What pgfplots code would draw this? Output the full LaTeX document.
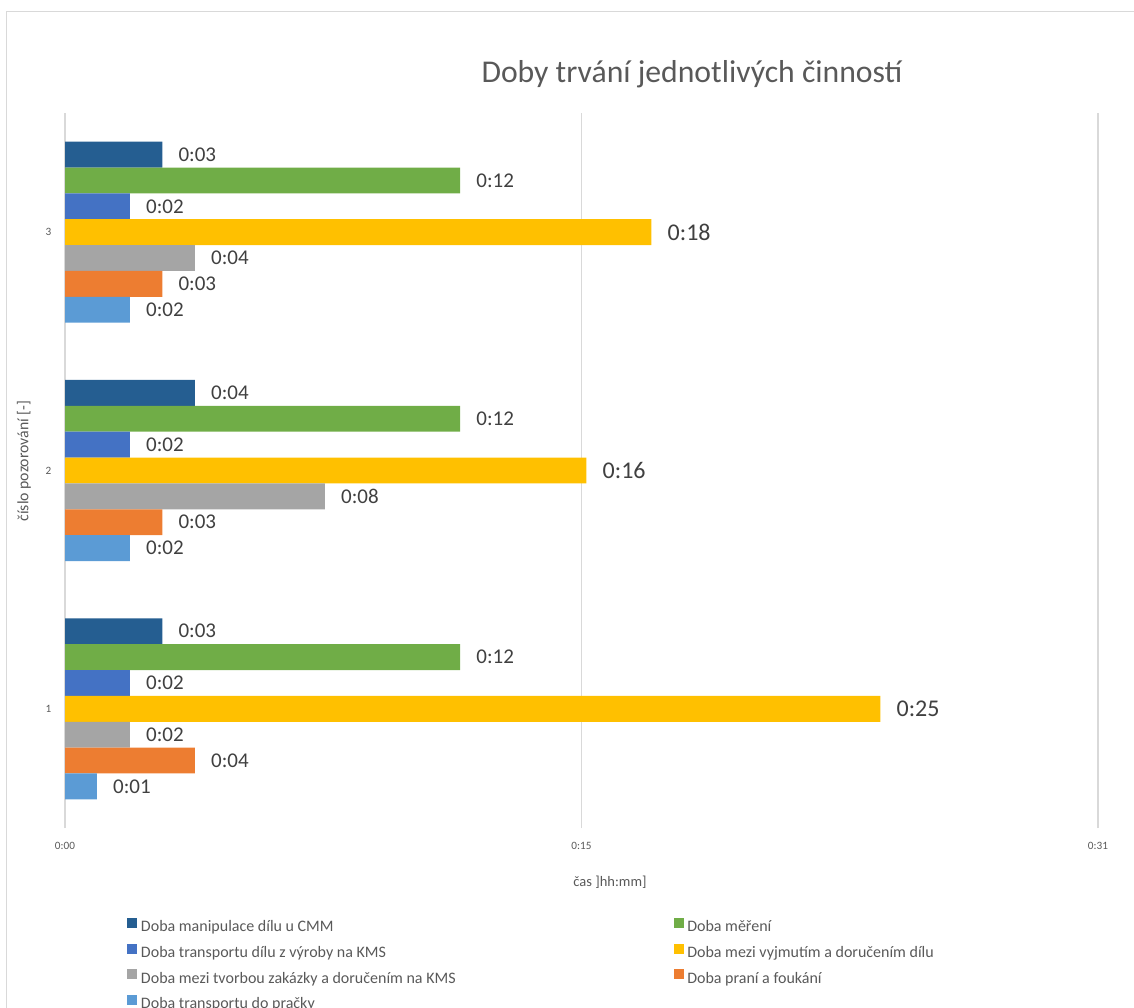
\documentclass[border=0pt]{standalone}
\usepackage{pgfplots}
\pgfplotsset{compat=1.18}
\usepackage{fontspec}
\setmainfont{Carlito}
\definecolor{c1}{HTML}{255E91}
\definecolor{c2}{HTML}{70AD47}
\definecolor{c3}{HTML}{4472C4}
\definecolor{c4}{HTML}{FFC000}
\definecolor{c5}{HTML}{A5A5A5}
\definecolor{c6}{HTML}{ED7D31}
\definecolor{c7}{HTML}{5B9BD5}
\definecolor{gridc}{HTML}{D9D9D9}
\definecolor{textc}{HTML}{595959}
\definecolor{labc}{HTML}{404040}
\begin{document}
\begin{tikzpicture}
\draw[gridc, line width=1.2pt] (-58.3pt,-300pt) -- (-58.3pt,816.3pt) -- (1200pt,816.3pt);
\begin{axis}[
  at={(0pt,0pt)}, anchor=south west, scale only axis,
  width=1033pt, height=715pt,
  xmin=0, xmax=31, ymin=0.5, ymax=3.5,
  xbar, bar width=0.1085,
  axis line style={draw=none},
  xtick={0,15.5,31}, xticklabels={0:00,0:15,0:31},
  ytick={1,2,3},
  major tick length=0pt, tick style={draw=none},
  xmajorgrids, major grid style={draw=gridc, line width=1.3pt},
  /pgf/number format/assume math mode=true,
  ticklabel style={font=\fontsize{11.2}{13}\selectfont, text=textc},
  xticklabel style={anchor=center, yshift=-18pt},
  yticklabel style={anchor=center, xshift=-16.5pt},
  nodes near coords, point meta=explicit symbolic,
  nodes near coords style={anchor=west, inner sep=0pt, xshift=16pt, font=\fontsize{21}{25}\selectfont, text=labc},
  clip=false,
  legend columns=2,
  legend cell align=left,
  legend image code/.code={\fill[#1,draw=none] (0pt,0pt) rectangle (10pt,10pt);},
  legend style={at={(0.0603,-0.1259)}, anchor=north west, draw=none, fill=none,
    inner sep=0pt, outer sep=0pt, column sep=3.7pt, row sep=8.4pt,
    font=\fontsize{16}{19}\selectfont, text=textc,
    nodes={inner sep=0pt, text height=11pt, text depth=3.5pt}},
]
\addplot[fill=c1, draw=none, bar shift=0.3255] coordinates {(2.92,1) [0:03] (3.90,2) [0:04] (2.92,3) [0:03]};
\addlegendentry{\makebox[528.9pt][l]{Doba manipulace dílu u CMM}}
\addplot[fill=c2, draw=none, bar shift=0.217] coordinates {(11.86,1) [0:12] (11.86,2) [0:12] (11.86,3) [0:12]};
\addlegendentry{Doba měření}
\addplot[fill=c3, draw=none, bar shift=0.1085] coordinates {(1.95,1) [0:02] (1.95,2) [0:02] (1.95,3) [0:02]};
\addlegendentry{\makebox[528.9pt][l]{Doba transportu dílu z výroby na KMS}}
\addplot[fill=c4, draw=none, bar shift=0, nodes near coords style={font=\fontsize{24}{28}\selectfont}] coordinates {(24.47,1) [0:25] (15.65,2) [0:16] (17.60,3) [0:18]};
\addlegendentry{Doba mezi vyjmutím a doručením dílu}
\addplot[fill=c5, draw=none, bar shift=-0.1085] coordinates {(1.95,1) [0:02] (7.80,2) [0:08] (3.90,3) [0:04]};
\addlegendentry{\makebox[528.9pt][l]{Doba mezi tvorbou zakázky a doručením na KMS}}
\addplot[fill=c6, draw=none, bar shift=-0.217] coordinates {(3.90,1) [0:04] (2.92,2) [0:03] (2.92,3) [0:03]};
\addlegendentry{Doba praní a foukání}
\addplot[fill=c7, draw=none, bar shift=-0.3255] coordinates {(0.96,1) [0:01] (1.95,2) [0:02] (1.95,3) [0:02]};
\addlegendentry{Doba transportu do pračky}
\end{axis}
\node[anchor=base, font=\fontsize{31.7}{36}\selectfont, text=textc] at (627pt,745pt) {Doby trvání jednotlivých činností};
\node[anchor=base, font=\fontsize{14.5}{17}\selectfont, text=textc] at (545pt,-58pt) {čas ]hh:mm]};
\node[rotate=90, font=\fontsize{15.8}{18}\selectfont, text=textc] at (-41pt,367pt) {číslo pozorování [-]};
\pgfresetboundingbox
\useasboundingbox (-65pt,-179pt) rectangle (1069pt,828pt);
\end{tikzpicture}
\end{document}
